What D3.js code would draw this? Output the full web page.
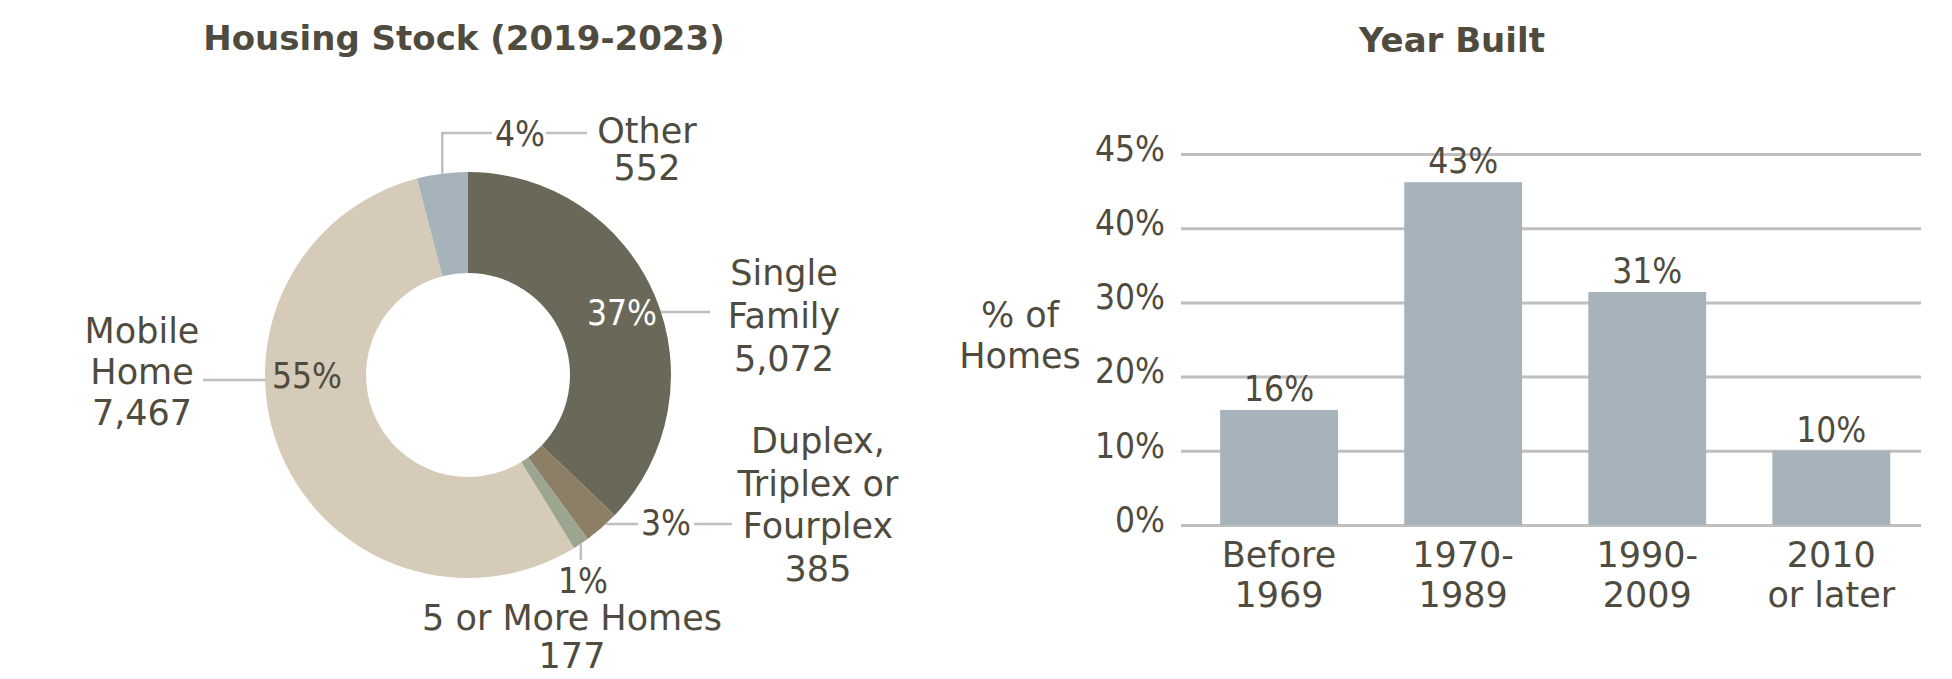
<!DOCTYPE html>
<html>
<head>
<meta charset="utf-8">
<script src="https://cdn.jsdelivr.net/npm/d3@7/dist/d3.min.js"></script>
<style>
body { margin: 0; background: #fff; }
text { font-family: "DejaVu Sans", sans-serif; fill: #4f4b3e; font-size: 35px; }
.title { font-weight: bold; font-size: 34px; }
.pct { font-family: "DejaVu Sans Condensed", "DejaVu Sans", sans-serif; font-stretch: condensed; }
</style>
</head>
<body>
<div id="chart"></div>
<script>
// Housing stock (donut) data
var unitTypes = ["Single|Family", "Duplex,|Triplex or|Fourplex", "5 or More Homes", "Mobile|Home", "Other"];
var unitCounts = [5072, 385, 177, 7467, 552];
var unitColors = ["#6a6959", "#8d7f66", "#9ca58f", "#d6cab8", "#a6b3ba"];

// Year built (bar) data
var yearGroups = ["Before|1969", "1970-|1989", "1990-|2009", "2010|or later"];
var yearHeights = [15.5, 46.2, 31.4, 10];
var yearLabels = ["16%", "43%", "31%", "10%"];
var yTickValues = [0, 10, 20, 30, 40, 50];
var yTickLabels = ["0%", "10%", "20%", "30%", "40%", "45%"];

var width = 1952;
var height = 679;
var lineColor = "#bfbfbf";

var svg = d3.select("#chart")
    .append("svg")
    .attr("width", width)
    .attr("height", height);

// ---------- donut ----------
var cx = 468, cy = 375;
var outerR = 203, innerR = 102;

svg.append("text")
    .attr("class", "title")
    .attr("x", cx - 4)
    .attr("y", 50)
    .attr("text-anchor", "middle")
    .text("Housing Stock (2019-2023)");

var pie = d3.pie().sort(null).value(function(d){ return d; });
var arcs = pie(unitCounts);
var total = d3.sum(unitCounts);
var arc = d3.arc().innerRadius(innerR).outerRadius(outerR);

var donut = svg.append("g").attr("transform", `translate(${cx}, ${cy})`);

donut.selectAll("path")
    .data(arcs)
    .enter()
    .append("path")
    .attr("d", arc)
    .attr("fill", function(d, i){ return unitColors[i]; });

// label placement for each slice (pct baseline, name centre + first baseline + line step, leader)
var labelLayout = [
    {pct: [622, 325], pctFill: "#ffffff", name: [784, 285, 43], lead: {type: "h", y: 312, to: 710}},
    {pct: [666, 535], name: [818, 453, 42.5], lead: {type: "h", y: 524, to: 638, gap: [694, 732]}},
    {pct: [583, 593], name: [572, 630, 38], lead: {type: "v", to: 560}},
    {pct: [307, 388], name: [142, 343, 41], lead: {type: "h", y: 380, to: 203}},
    {pct: [520, 146], name: [647, 143, 37], lead: {type: "elbow", y: 133, to: 492, gap: [546, 587]}}
];

var pctFormat = d3.format(".0%");
var countFormat = d3.format(",");
var leaders = svg.append("g")
    .attr("fill", "none")
    .attr("stroke", lineColor)
    .attr("stroke-width", 2.5);

arcs.forEach(function(d, i){
    var lay = labelLayout[i];
    var mid = (d.startAngle + d.endAngle) / 2;
    var edgeX = cx + outerR * Math.sin(mid);
    var edgeY = cy - outerR * Math.cos(mid);
    var pts;

    if (lay.lead.type === "h") {
        // horizontal leader from the ring edge at the label's height
        var dy = lay.lead.y - cy;
        var side = lay.lead.to > cx ? 1 : -1;
        var x0 = cx + side * Math.sqrt(outerR * outerR - dy * dy);
        pts = [[x0, lay.lead.y], [lay.lead.to, lay.lead.y]];
    } else if (lay.lead.type === "v") {
        pts = [[edgeX, edgeY], [edgeX, lay.lead.to]];
    } else {
        pts = [[edgeX, edgeY], [edgeX, lay.lead.y], [lay.lead.to, lay.lead.y]];
    }
    leaders.append("path").attr("d", d3.line()(pts));
    if (lay.lead.gap) {
        leaders.append("path").attr("d", d3.line()([[lay.lead.gap[0], lay.lead.y], [lay.lead.gap[1], lay.lead.y]]));
    }

    svg.append("text")
        .attr("class", "pct")
        .attr("x", lay.pct[0])
        .attr("y", lay.pct[1])
        .attr("text-anchor", "middle")
        .style("fill", lay.pctFill || null)
        .text(pctFormat(unitCounts[i] / total));

    var lines = unitTypes[i].split("|").concat([countFormat(unitCounts[i])]);
    var t = svg.append("text").attr("text-anchor", "middle");
    lines.forEach(function(l, j){
        t.append("tspan")
            .attr("x", lay.name[0])
            .attr("y", lay.name[1] + j * lay.name[2])
            .text(l);
    });
});

// ---------- bars ----------
var plotLeft = 1181, plotRight = 1921;
var plotTop = 154, plotBottom = 525;

svg.append("text")
    .attr("class", "title")
    .attr("x", 1452)
    .attr("y", 52)
    .attr("text-anchor", "middle")
    .text("Year Built");

var xScale = d3.scaleBand()
    .domain(yearGroups)
    .range([plotLeft, plotRight])
    .paddingInner(0.36)
    .paddingOuter(0.19)
    .align(0.56);

var yScale = d3.scaleLinear()
    .domain([0, 50])
    .range([plotBottom, plotTop]);

var yAxis = d3.axisLeft(yScale)
    .tickValues(yTickValues)
    .tickFormat(function(d, i){ return yTickLabels[i]; })
    .tickSize(-(plotRight - plotLeft))
    .tickPadding(16);

var yAxisG = svg.append("g")
    .attr("transform", `translate(${plotLeft}, 0)`)
    .call(yAxis);
yAxisG.select(".domain").remove();
yAxisG.selectAll("line").attr("stroke", lineColor).attr("stroke-width", 3);
yAxisG.selectAll("text")
    .attr("class", "pct")
    .attr("dy", "0.18em")
    .style("fill", "#4f4b3e");
yAxisG.attr("font-family", null).attr("font-size", null);

var bars = svg.append("g");
bars.selectAll("rect")
    .data(yearHeights)
    .enter()
    .append("rect")
    .attr("x", function(d, i){ return xScale(yearGroups[i]); })
    .attr("y", function(d){ return yScale(d); })
    .attr("width", xScale.bandwidth())
    .attr("height", function(d){ return plotBottom - yScale(d); })
    .attr("fill", "#a6b3ba");

bars.selectAll("text")
    .data(yearHeights)
    .enter()
    .append("text")
    .attr("class", "pct")
    .attr("x", function(d, i){ return xScale(yearGroups[i]) + xScale.bandwidth() / 2; })
    .attr("y", function(d){ return yScale(d) - 9; })
    .attr("text-anchor", "middle")
    .text(function(d, i){ return yearLabels[i]; });

// category labels on two lines
yearGroups.forEach(function(g){
    var t = svg.append("text").attr("text-anchor", "middle");
    g.split("|").forEach(function(l, j){
        t.append("tspan")
            .attr("x", xScale(g) + xScale.bandwidth() / 2)
            .attr("y", 567 + j * 40)
            .text(l);
    });
});

// y axis title
var yTitle = svg.append("text").attr("text-anchor", "middle");
["% of", "Homes"].forEach(function(l, j){
    yTitle.append("tspan").attr("x", 1020).attr("y", 327 + j * 41).text(l);
});
</script>
</body>
</html>
